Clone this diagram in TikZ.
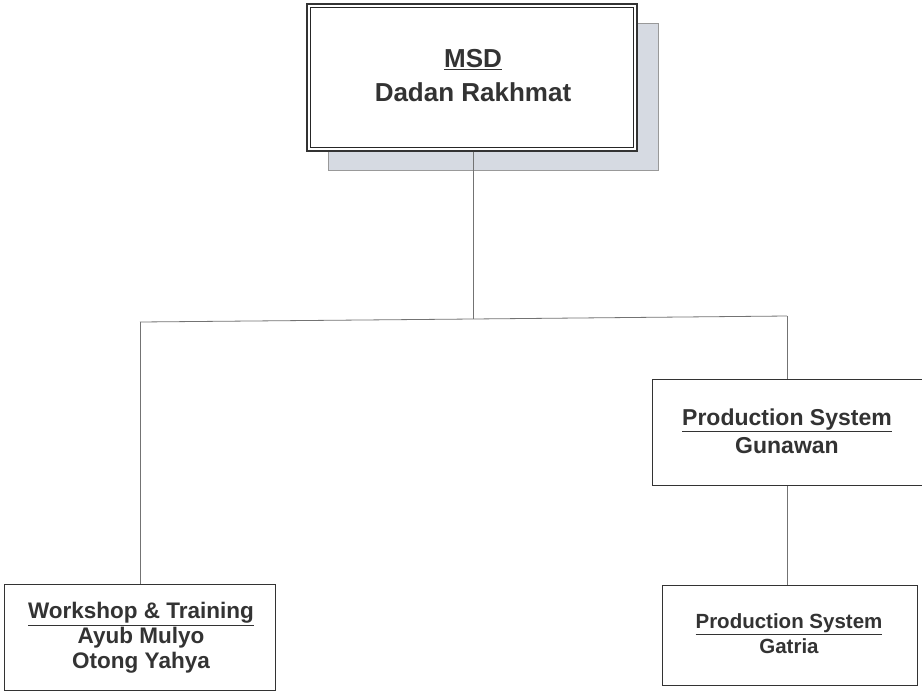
\documentclass[tikz,border=0pt]{standalone}
\usepackage{fontspec}
\setmainfont{Liberation Sans}
\usetikzlibrary{calc}
\begin{document}
\begin{tikzpicture}[x=1pt,y=-1pt,
  txt/.style={text=black!80,font=\bfseries},
  orgbox/.style={draw=black!80,line width=1.2pt,fill=white,inner sep=0pt},
  link/.style={draw=black!55,line width=0.8pt}]
\useasboundingbox[fill=white] (0,0) rectangle (922,691);
% shadow of top box
\fill[fill={rgb,255:red,214;green,218;blue,226},draw=black!40,line width=1pt] (328,23) rectangle (658,170);
% top box with double border
\node[orgbox,minimum width=330pt,minimum height=147pt,anchor=north west,line width=1.6pt] (msd) at (306,3) {};
\draw[black!85,line width=1pt] ($(msd.north west)+(4,4)$) rectangle ($(msd.south east)+(-4,-4)$);
\node[txt,align=center,font=\bfseries\fontsize{26}{34}\selectfont] (msdt) at (473,76) {\underline{MSD}\\Dadan Rakhmat};
% other boxes
\node[orgbox,minimum width=270pt,minimum height=106pt,anchor=north west] (pro) at (652,379) {};
\node[txt,align=center,font=\bfseries\fontsize{23}{28}\selectfont] (prot) at (787,431) {\underline{Production System}\\Gunawan};
\node[orgbox,minimum width=255pt,minimum height=100pt,anchor=north west] (gat) at (662,585) {};
\node[txt,align=center,font=\bfseries\fontsize{20.5}{25}\selectfont] (gatt) at (789,634) {\underline{Production System}\\Gatria};
\node[orgbox,minimum width=271pt,minimum height=106pt,anchor=north west] (ws) at (4,584) {};
\node[txt,align=center,font=\bfseries\fontsize{22.5}{25}\selectfont] (wst) at (141,638) {\underline{Workshop \& Training}\\Ayub Mulyo\\Otong Yahya};
% connectors
\coordinate (jc) at (473,319);
\coordinate (jl) at (140,322);
\coordinate (jr) at (787,316);
\draw[link] (msd.south -| jc) -- (jc);
\draw[link] (jl) -- (jc) -- (jr);
\draw[link] (jl) -- (jl |- ws.north);
\draw[link] (jr) -- (jr |- pro.north);
\draw[link] (pro.south -| jr) -- (gat.north -| jr);
\end{tikzpicture}
\end{document}
